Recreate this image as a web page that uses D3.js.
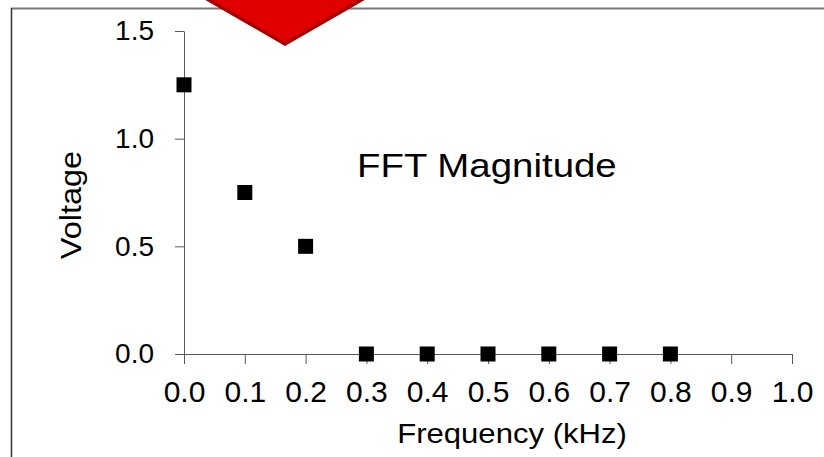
<!DOCTYPE html>
<html>
<head>
<meta charset="utf-8">
<script src="https://cdn.jsdelivr.net/npm/d3@7"></script>
<style>
  body { margin: 0; background: #fff; }
  svg { display: block; font-family: "Liberation Sans", Arial, sans-serif; }
</style>
</head>
<body>
<svg width="824" height="457"></svg>
<script>
// dữ liệu
const frequency = [0.0, 0.1, 0.2, 0.3, 0.4, 0.5, 0.6, 0.7, 0.8];
const voltage = [1.25, 0.75, 0.5, 0, 0, 0, 0, 0, 0];
const xTicks = [0, 0.1, 0.2, 0.3, 0.4, 0.5, 0.6, 0.7, 0.8, 0.9, 1.0];
const yTicks = [0, 0.5, 1.0, 1.5];

const svg = d3.select("svg");
const axisColor = "#595959";

// khung viền
svg.append("line")
  .attr("x1", 11).attr("x2", 824).attr("y1", 8.5).attr("y2", 8.5)
  .attr("stroke", "#7a7a7a").attr("stroke-width", 2);
svg.append("line")
  .attr("x1", 11.5).attr("x2", 11.5).attr("y1", 8).attr("y2", 457)
  .attr("stroke", "#333").attr("stroke-width", 1.5);

const x = d3.scaleLinear().domain([0, 1]).range([184, 792]);
const y = d3.scaleLinear().domain([0, 1.5]).range([354, 31]);

// trục x
const gx = svg.append("g")
  .attr("transform", `translate(0,${y(0)})`)
  .call(d3.axisBottom(x).tickValues(xTicks).tickFormat(d3.format(".1f"))
    .tickSize(10).tickSizeOuter(0).tickPadding(17));
gx.select(".domain").attr("stroke", axisColor);
gx.selectAll(".tick line").attr("stroke", axisColor);
gx.selectAll(".tick text")
  .attr("font-size", "30px").attr("fill", "#000")
  .attr("font-family", "Liberation Sans, Arial, sans-serif");

// trục y
const gy = svg.append("g")
  .attr("transform", `translate(${x(0)},0)`)
  .call(d3.axisLeft(y).tickValues(yTicks).tickFormat(d3.format(".1f"))
    .tickSize(9).tickSizeOuter(0).tickPadding(21));
gy.select(".domain").attr("stroke", axisColor);
gy.selectAll(".tick line").attr("stroke", axisColor);
gy.selectAll(".tick text")
  .attr("font-size", "28px").attr("fill", "#000")
  .attr("font-family", "Liberation Sans, Arial, sans-serif");

// điểm dữ liệu (hình vuông)
const pts = frequency.map((f, i) => ({ f, v: voltage[i] }));
const size = 15;
svg.append("g").selectAll("rect")
  .data(pts)
  .enter()
  .append("rect")
  .attr("x", d => x(d.f) - size / 2)
  .attr("y", d => y(d.v) - size / 2)
  .attr("width", size)
  .attr("height", size)
  .attr("fill", "#000");

// tiêu đề trong biểu đồ
svg.append("text")
  .attr("transform", "translate(357,177) scale(1.13,1)")
  .attr("font-size", "34px")
  .text("FFT Magnitude");

// tên trục x
svg.append("text")
  .attr("transform", "translate(512,443) scale(1.11,1)")
  .attr("text-anchor", "middle")
  .attr("font-size", "28px")
  .text("Frequency (kHz)");

// tên trục y
svg.append("text")
  .attr("transform", "translate(81,205) rotate(-90) scale(1.12,1)")
  .attr("text-anchor", "middle")
  .attr("font-size", "29px")
  .text("Voltage");

// mũi tên đỏ phía trên
svg.append("polygon")
  .attr("points", "196.6,-5 373.4,-5 285,46")
  .attr("fill", "#a80000");
svg.append("polygon")
  .attr("points", "203.5,-5 366.5,-5 285,42")
  .attr("fill", "#e00000");
</script>
</body>
</html>
